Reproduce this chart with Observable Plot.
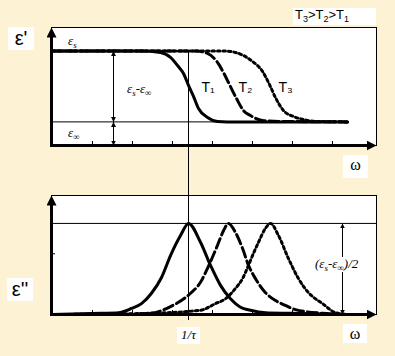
<!DOCTYPE html>
<html><head><meta charset="utf-8">
<script src="https://cdn.jsdelivr.net/npm/d3@7"></script>
<script src="https://cdn.jsdelivr.net/npm/@observablehq/plot@0.6"></script>
<style>
body{margin:0;background:#fdf2d3;}
#c{position:relative;width:395px;height:356px;overflow:hidden;background:#fdf2d3;}
#c svg{position:absolute;left:0;}
.lb{position:absolute;color:#000;white-space:nowrap;}
.wb{background:#fff;}
.sans{font-family:"Liberation Sans",Arial,sans-serif;}
.ser{font-family:"Liberation Serif","Times New Roman",serif;}
.it{font-style:italic;}
.sb{font-size:9px;position:relative;top:3px;}
</style></head>
<body><div id="c"></div>
<script>
// ---- data (x in log-frequency units, y in permittivity units) ----
const xTicks = [1, 2, 3, 4, 5, 6, 7];
const epsS = 4, epsInf = 1, tauX = 3.4, halfDelta = 1.5;
const t1Re = [[0,4],[2.2,4],[2.7,3.94],[2.95,3.73],[3.125,3.39],[3.275,3.05],[3.4,2.55],[3.525,2.08],[3.65,1.57],[3.875,1.19],[4.125,1.02],[4.375,1],[7.375,1]];
const t2Re = [[0,4],[3.6,4],[3.875,3.9],[4.125,3.52],[4.3,3.01],[4.425,2.58],[4.6,1.99],[4.775,1.48],[4.95,1.27],[5.25,1.06],[5.7,1.02],[7.375,1]];
const t3Re = [[0,4],[4.3,4],[4.575,3.94],[5.0,3.56],[5.25,3.14],[5.425,2.58],[5.575,2.03],[5.775,1.48],[6.025,1.23],[6.275,1.1],[6.575,1.02],[7.375,1]];
const t1Im = [[0,0],[1.225,0.02],[1.65,0.03],[1.975,0.1],[2.225,0.18],[2.475,0.35],[2.725,0.61],[2.95,0.97],[3.2,1.3],[3.4,1.5],[3.7,1.19],[3.95,0.81],[4.2,0.48],[4.45,0.26],[4.7,0.12],[4.95,0.07],[5.325,0.03],[5.95,0.02],[7.375,0]];
const t2Im = [[0,0],[1.7,0],[2.45,0.02],[2.95,0.13],[3.45,0.35],[3.7,0.53],[3.875,0.76],[4.125,1.14],[4.275,1.38],[4.4,1.5],[4.575,1.35],[4.75,1.09],[4.9,0.81],[5.075,0.59],[5.325,0.36],[5.575,0.23],[5.825,0.15],[6.075,0.08],[6.75,0.02],[7.375,0]];
const t3Im = [[0,0],[2.45,0.02],[3.7,0.07],[4.075,0.18],[4.325,0.26],[4.575,0.43],[4.75,0.59],[4.9,0.81],[5.0,0.97],[5.15,1.19],[5.325,1.42],[5.45,1.5],[5.65,1.3],[5.9,0.92],[6.15,0.59],[6.4,0.36],[6.75,0.18],[7.075,0.03],[7.375,0]];
const curveLabels = [{label:"T\u2081", x:3.725, y:2.46},{label:"T\u2082", x:4.65, y:2.46},{label:"T\u2083", x:5.65, y:2.46}];
const deltaArrowX = 1.525, halfArrowX = 7.25, curveEnd = 7.375;

// ---- layout ----
const W = 395;
const xDomain = [-0.025, 8.1];
const topM = {top:27, right:19, bottom:35, left:51}, topH = 180, topDom = [0, 5];
const botM = {top:15, right:19, bottom:42, left:51}, botH = 176, botDom = [0, 1.96];
const xPx = (W - topM.left - topM.right) / (xDomain[1] - xDomain[0]);
const topPx = (topH - topM.top - topM.bottom) / (topDom[1] - topDom[0]);
const botPx = (botH - botM.top - botM.bottom) / (botDom[1] - botDom[0]);

function tri(len, wid, ref) {
  return (color) => {
    const m = d3.create("svg:marker")
      .attr("viewBox", `0 ${-wid/2} ${len} ${wid}`)
      .attr("markerWidth", len).attr("markerHeight", wid)
      .attr("markerUnits", "userSpaceOnUse")
      .attr("refX", ref).attr("refY", 0)
      .attr("orient", "auto-start-reverse");
    m.append("path").attr("d", `M0,${-wid/2}L${len},0L0,${wid/2}Z`).attr("fill", color || "black").attr("stroke", "none");
    return m.node();
  };
}
const bigHead = tri(10, 10, 5);
const smallHead = tri(5, 5, 5);

function curves(r1, r2, r3) {
  const o = {x: d => d[0], y: d => d[1], stroke: "black", strokeWidth: 3, curve: "monotone-x"};
  return [
    Plot.line(r1, o),
    Plot.line(r2, {...o, strokeDasharray: "10,4"}),
    Plot.line(r3, {...o, strokeDasharray: "2.5,3"})
  ];
}
function axes(px, dom) {
  const xmin = xDomain[0];
  return [
    Plot.link([{x1: xmin, y1: dom[0], x2: xmin, y2: dom[1] - 5/px}], {x1:"x1", y1:"y1", x2:"x2", y2:"y2", stroke:"black", strokeWidth:3, strokeLinecap:"square", markerEnd: bigHead}),
    Plot.link([{x1: xmin, y1: dom[0], x2: xDomain[1] - 5/xPx, y2: dom[0]}], {x1:"x1", y1:"y1", x2:"x2", y2:"y2", stroke:"black", strokeWidth:3, strokeLinecap:"square", markerEnd: bigHead})
  ];
}

const innerW = W - topM.left - topM.right;
const topInnerH = topH - topM.top - topM.bottom;
const botInnerH = botH - botM.top - botM.bottom;

const plotTop = Plot.plot({
  width: W, height: topH,
  marginTop: topM.top, marginRight: topM.right, marginBottom: topM.bottom, marginLeft: topM.left,
  x: {domain: xDomain, axis: null},
  y: {domain: topDom, axis: null},
  style: {background: "transparent", top: "0px"},
  marks: [
    Plot.frame({fill: "white", stroke: "black", strokeWidth: 1}),
    Plot.ruleY([epsInf], {y: d => d, x1: xDomain[0], x2: curveEnd, stroke: "black", strokeWidth: 1}),
    Plot.tickX(xTicks, {x: d => d, insetTop: topInnerH - 4, stroke: "black", strokeWidth: 1}),
    Plot.ruleX([tauX], {x: d => d, y1: epsS, y2: topDom[0] - topM.bottom / topPx, stroke: "black", strokeWidth: 1, clip: false}),
    ...curves(t1Re, t2Re, t3Re),
    Plot.link([{x: deltaArrowX, y1: epsS, y2: epsInf}, {x: deltaArrowX, y1: epsInf, y2: topDom[0]}], {x1:"x", x2:"x", y1:"y1", y2:"y2", stroke:"black", strokeWidth:1, markerStart: smallHead, markerEnd: smallHead}),
    Plot.text(curveLabels, {x:"x", y:"y", text:"label", textAnchor:"start", fontSize:14, fontFamily:"Liberation Sans, Arial, sans-serif", fill:"black"}),
    ...axes(topPx, topDom)
  ]
});

const plotBot = Plot.plot({
  width: W, height: botH,
  marginTop: botM.top, marginRight: botM.right, marginBottom: botM.bottom, marginLeft: botM.left,
  x: {domain: xDomain, axis: null},
  y: {domain: botDom, axis: null},
  style: {background: "transparent", top: "180px"},
  marks: [
    Plot.frame({fill: "white", stroke: "black", strokeWidth: 1}),
    Plot.ruleY([halfDelta], {y: d => d, stroke: "black", strokeWidth: 1}),
    Plot.tickY([1], {y: d => d, insetRight: innerW - 4, stroke: "black", strokeWidth: 1}),
    Plot.tickX(xTicks, {x: d => d, insetTop: botInnerH - 4, stroke: "black", strokeWidth: 1}),
    Plot.ruleX([tauX], {x: d => d, y1: botDom[1] + botM.top / botPx, y2: botDom[0] - 6 / botPx, stroke: "black", strokeWidth: 1, clip: false}),
    ...curves(t1Im, t2Im, t3Im),
    Plot.link([{x: halfArrowX, y1: halfDelta, y2: botDom[0]}], {x1:"x", x2:"x", y1:"y1", y2:"y2", stroke:"black", strokeWidth:1, markerStart: smallHead, markerEnd: smallHead}),
    ...axes(botPx, botDom)
  ]
});

const c = document.getElementById("c");
c.append(plotTop, plotBot);

const labels = `
<div class="lb wb sans" style="left:8px;top:27px;width:26px;height:23px;font-size:20px;line-height:23px;text-align:center;">ε'</div>
<div class="lb wb sans" style="left:7px;top:278px;width:26px;height:23px;font-size:20px;line-height:23px;text-align:center;">ε''</div>
<div class="lb wb sans" style="left:293px;top:8px;width:81px;height:17px;font-size:13px;line-height:14px;padding-left:2px;">T<span class="sb">3</span>&gt;T<span class="sb">2</span>&gt;T<span class="sb">1</span></div>
<div class="lb wb ser" style="left:343px;top:155px;width:25px;height:23px;font-size:16px;line-height:20px;text-align:center;">ω</div>
<div class="lb wb ser" style="left:343px;top:324px;width:24px;height:19px;font-size:16px;line-height:19px;text-align:center;">ω</div>
<div class="lb wb ser it" style="left:177px;top:327px;width:23px;height:17px;font-size:13px;line-height:15px;text-align:center;">1/τ</div>
<div class="lb ser it" style="left:68px;top:34px;font-size:13px;line-height:13px;">ε<span class="sb">s</span></div>
<div class="lb ser it" style="left:127px;top:82px;font-size:13px;line-height:13px;">ε<span class="sb">s</span>-ε<span class="sb">∞</span></div>
<div class="lb ser it" style="left:68px;top:126px;font-size:13px;line-height:13px;">ε<span class="sb">∞</span></div>
<div class="lb wb ser it" style="left:314px;top:257px;padding:0 1px;font-size:13px;line-height:13px;">(ε<span class="sb">s</span>-ε<span class="sb">∞</span>)/2</div>
`;
c.insertAdjacentHTML("beforeend", labels);
</script>
</body></html>
